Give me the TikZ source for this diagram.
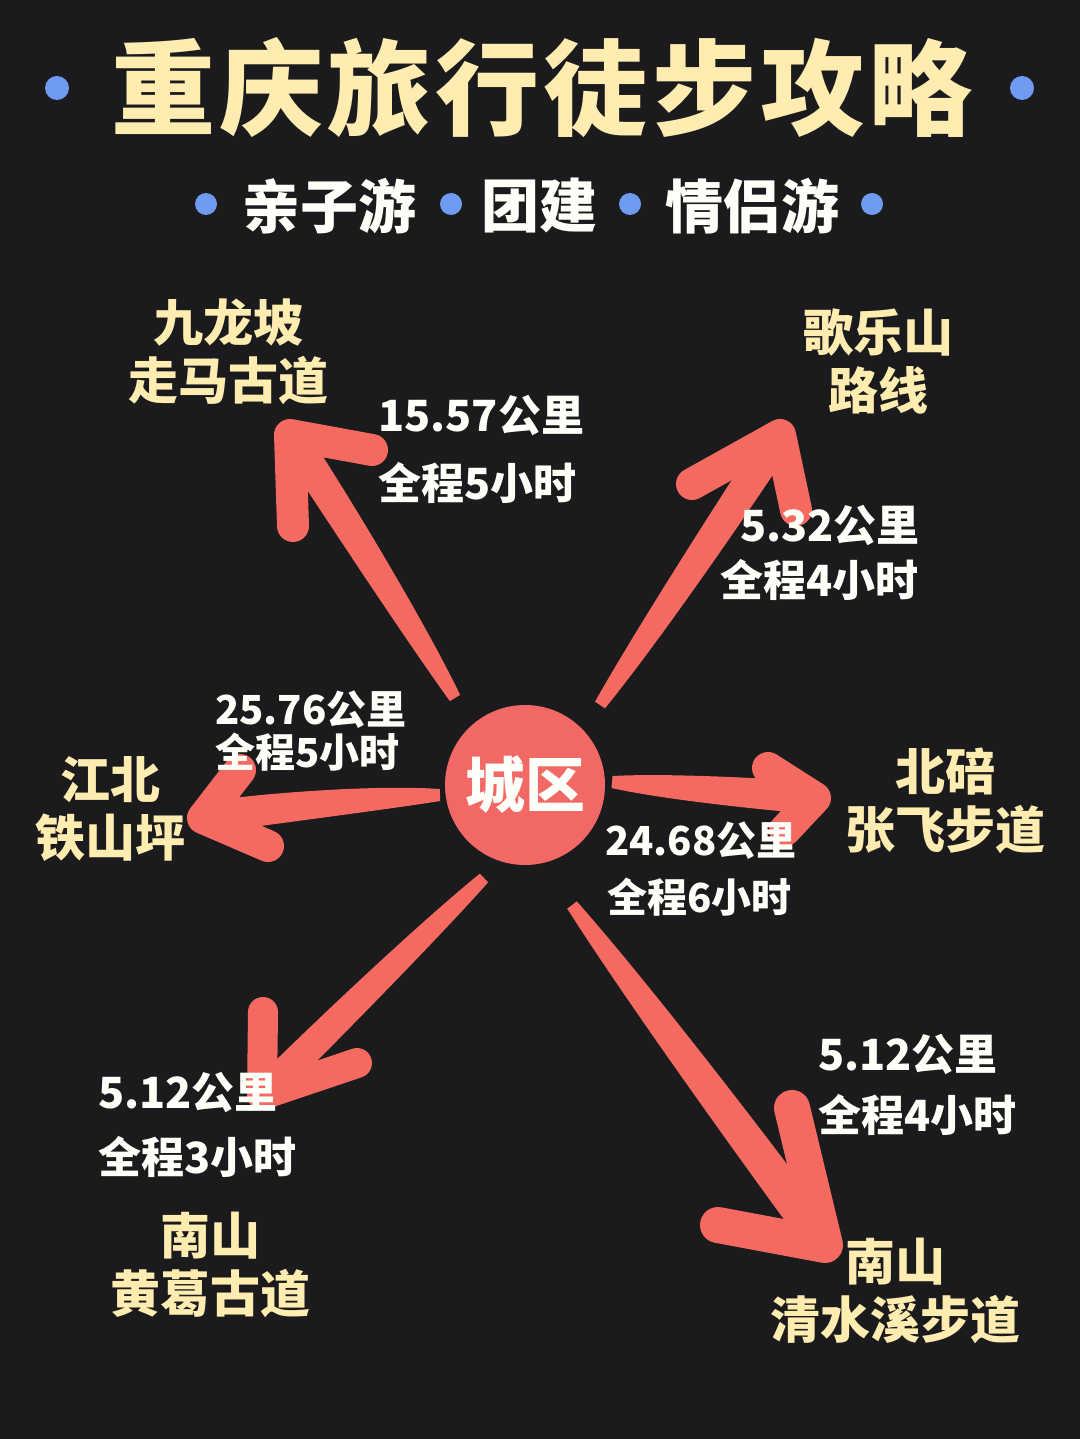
\documentclass[tikz,border=0pt]{standalone}
\usepackage{fontspec}
\newfontfamily\cjk{Noto Sans CJK SC}
\newfontfamily\cjkls{Noto Sans CJK SC}[LetterSpace=4]
\usetikzlibrary{calc}
\definecolor{bgc}{RGB}{27,27,29}
\definecolor{arrowred}{RGB}{244,106,96}
\definecolor{circred}{RGB}{241,104,100}
\definecolor{ylw}{RGB}{254,236,176}
\definecolor{wht}{RGB}{255,255,250}
\definecolor{dotblue}{RGB}{110,155,240}
\newcommand{\brusharrow}[6]{%
  \coordinate (q1) at ($(#1)!0.55!(#2)$);
  \coordinate (q2) at ($(#3)!0.45!(#2)$);
  \fill[arrowred] ($(#1)!6pt!90:(#2)$) .. controls ($(q1)!0.85*#6pt!90:(#3)$) and ($(q2)!#6pt!90:(#3)$) .. ($(#3)!#6pt!-90:(#2)$)
     -- ($(#3)!#6pt!90:(#2)$) .. controls ($(q2)!#6pt!-90:(#3)$) and ($(q1)!0.85*#6pt!-90:(#3)$) .. ($(#1)!6pt!-90:(#2)$) -- cycle;
  \draw[arrowred, line width=2*#6pt, line cap=round, line join=round] (#4) -- (#3) -- (#5);
}
\tikzset{
  title/.style={text=ylw, font=\cjkls\bfseries\fontsize{104}{110}\selectfont, inner sep=0},
  sub/.style={text=wht, font=\cjk\bfseries\fontsize{58}{62}\selectfont, inner sep=0},
  place/.style={text=ylw, font=\cjk\bfseries\fontsize{50}{58}\selectfont, inner sep=0, align=center},
  dist/.style={text=wht, font=\cjk\bfseries\fontsize{43}{46}\selectfont, inner sep=0, anchor=west},
  distsm/.style={text=wht, font=\cjk\bfseries\fontsize{40}{44}\selectfont, inner sep=0, anchor=west},
  bdot/.style={fill=dotblue, circle, inner sep=0},
}
\begin{document}
\begin{tikzpicture}[x=1pt,y=-1pt]
\fill[bgc] (0,0) rectangle (1080,1439);
\useasboundingbox (0,0) rectangle (1080,1439);
% title
\node[title] (ttl) at (542,88) {重庆旅行徒步攻略};
\node[bdot, minimum size=24] (d1) at (57,88) {};
\node[bdot, minimum size=24] (d2) at (1022,88) {};
% subtitle
\node[bdot, minimum size=22] (s1) at (206,204) {};
\node[sub] (sa) at (329,206) {亲子游};
\node[bdot, minimum size=22] (s2) at (451,204) {};
\node[sub] (sb) at (539,206) {团建};
\node[bdot, minimum size=22] (s3) at (630,204) {};
\node[sub] (sc) at (752,206) {情侣游};
\node[bdot, minimum size=22] (s4) at (872,204) {};
% arrows
\coordinate (t1) at (455,698); \coordinate (c1) at (374,562); \coordinate (a1) at (290,435);
\coordinate (b1a) at (372,450); \coordinate (b1b) at (293,526);
\brusharrow{t1}{c1}{a1}{b1a}{b1b}{16}
\coordinate (t2) at (600,705); \coordinate (c2) at (692,570); \coordinate (a2) at (780,435);
\coordinate (b2a) at (692,484); \coordinate (b2b) at (796,510);
\brusharrow{t2}{c2}{a2}{b2a}{b2b}{16}
\coordinate (t3) at (440,795); \coordinate (c3) at (320,800); \coordinate (a3) at (203,818);
\coordinate (b3a) at (240,770); \coordinate (b3b) at (268,846);
\brusharrow{t3}{c3}{a3}{b3a}{b3b}{16}
\coordinate (t4) at (612,782); \coordinate (c4) at (710,790); \coordinate (a4) at (815,798);
\coordinate (b4a) at (768,768); \coordinate (b4b) at (785,830);
\brusharrow{t4}{c4}{a4}{b4a}{b4b}{16}
\coordinate (t5) at (484,878); \coordinate (c5) at (375,982); \coordinate (a5) at (262,1095);
\coordinate (b5a) at (263,1012); \coordinate (b5b) at (357,1063);
\brusharrow{t5}{c5}{a5}{b5a}{b5b}{15}
\coordinate (t6) at (572,905); \coordinate (c6) at (700,1075); \coordinate (a6) at (825,1245);
\coordinate (b6a) at (792,1108); \coordinate (b6b) at (718,1225);
\brusharrow{t6}{c6}{a6}{b6a}{b6b}{18}
% center
\node[circle, fill=circred, minimum size=160, inner sep=0, text=wht, font=\cjk\bfseries\fontsize{60}{64}\selectfont] (ctr) at (525,785) {城区};
% places
\node[place] (p1) at (228,352) {九龙坡\\走马古道};
\node[place] (p2) at (878,361) {歌乐山\\路线};
\node[place] (p3) at (110,809) {江北\\铁山坪};
\node[place] (p4) at (945,801) {北碚\\张飞步道};
\node[place] (p5) at (210,1265) {南山\\黄葛古道};
\node[place] (p6) at (895,1291) {南山\\清水溪步道};
% distances
\node[dist] (k1) at (378,416) {15.57公里};
\node[dist] (h1) at (378,483) {全程5小时};
\node[dist] (k2) at (740,526) {5.32公里};
\node[dist] (h2) at (720,580) {全程4小时};
\node[distsm] (k3) at (215,710) {25.76公里};
\node[distsm] (h3) at (215,752) {全程5小时};
\node[distsm] (k4) at (605,841) {24.68公里};
\node[distsm] (h4) at (607,897) {全程6小时};
\node[dist] (k5) at (98,1093) {5.12公里};
\node[dist] (h5) at (98,1157) {全程3小时};
\node[dist] (k6) at (818,1055) {5.12公里};
\node[dist] (h6) at (818,1115) {全程4小时};
\end{tikzpicture}
\end{document}
